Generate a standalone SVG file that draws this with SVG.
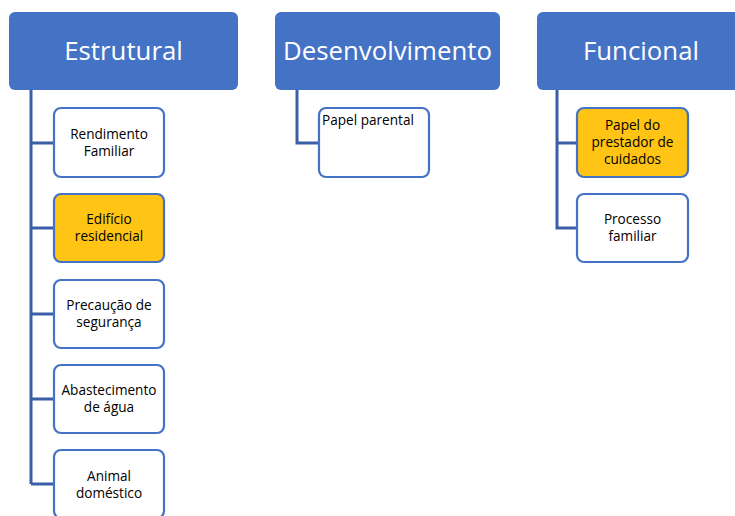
<svg xmlns="http://www.w3.org/2000/svg" width="735" height="516" viewBox="0 0 735 516">
<style>
.hdr{fill:#4472C4;}
.hdrt{fill:#fff;font-family:"Open Sans","Noto Sans",sans-serif;font-size:25.8px;text-anchor:middle;}
.box{fill:#fff;stroke:#4472C4;stroke-width:2.2;}
.box.y{fill:#FFC414;}
.t{fill:#000;font-family:"Open Sans","Noto Sans",sans-serif;font-size:13.6px;text-anchor:middle;}
.tl{text-anchor:start;}
.con{fill:none;stroke:#3B5EA6;stroke-width:3;}
</style>
<rect width="735" height="516" fill="#fff"/>
<g id="connectors">
<path class="con" d="M31 90 V484 M31 143 H54 M31 228 H54 M31 314 H54 M31 399 H54 M31 484 H54"/>
<path class="con" d="M297 90 V143 H319"/>
<path class="con" d="M557 90 V228 H577 M557 143 H577"/>
</g>
<g id="estrutural"><rect class="hdr" x="9" y="12" width="229" height="78" rx="6"/><text class="hdrt" x="123.5" y="60">Estrutural</text></g>
<g id="desenvolvimento"><rect class="hdr" x="275" y="12" width="225" height="78" rx="6"/><text class="hdrt" x="387.5" y="60">Desenvolvimento</text></g>
<g id="funcional"><rect class="hdr" x="537" y="12" width="208" height="78" rx="6"/><text class="hdrt" x="641" y="60">Funcional</text></g>
<g id="rendimento"><rect class="box" x="54" y="108" width="110" height="69" rx="7"/><text class="t" x="109" y="139">Rendimento</text><text class="t" x="109" y="156">Familiar</text></g>
<g id="edificio"><rect class="box y" x="54" y="194" width="110" height="68" rx="7"/><text class="t" x="109" y="224">Edifício</text><text class="t" x="109" y="241">residencial</text></g>
<g id="precaucao"><rect class="box" x="54" y="280" width="110" height="68" rx="7"/><text class="t" x="109" y="310">Precaução de</text><text class="t" x="109" y="327">segurança</text></g>
<g id="abastecimento"><rect class="box" x="54" y="365" width="110" height="68" rx="7"/><text class="t" x="109" y="395">Abastecimento</text><text class="t" x="109" y="412">de água</text></g>
<g id="animal"><rect class="box" x="54" y="450" width="110" height="68" rx="7"/><text class="t" x="109" y="481">Animal</text><text class="t" x="109" y="498">doméstico</text></g>
<g id="papel-parental"><rect class="box" x="319" y="108" width="110" height="69" rx="7"/><text class="t tl" x="322" y="125">Papel parental</text></g>
<g id="papel-prestador"><rect class="box y" x="577" y="108" width="111" height="69" rx="7"/><text class="t" x="632.5" y="130">Papel do</text><text class="t" x="632.5" y="147">prestador de</text><text class="t" x="632.5" y="164">cuidados</text></g>
<g id="processo"><rect class="box" x="577" y="194" width="111" height="68" rx="7"/><text class="t" x="632.5" y="224">Processo</text><text class="t" x="632.5" y="241">familiar</text></g>
</svg>
